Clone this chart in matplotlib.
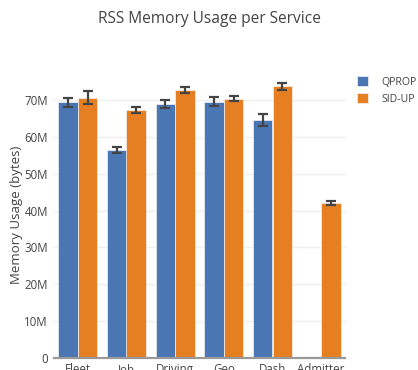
import numpy as np
import matplotlib
matplotlib.use('Agg')
import matplotlib.pyplot as plt

# data (values in bytes)
services = ['Fleet', 'Job', 'Driving', 'Geo', 'Dash', 'Admitter']
qprop = [69.5e6, 56.5e6, 69.0e6, 69.7e6, 64.6e6, np.nan]
qprop_err = [1.2e6, 0.9e6, 1.0e6, 1.1e6, 1.6e6, np.nan]
sidup = [70.7e6, 67.4e6, 72.9e6, 70.5e6, 73.8e6, 42.2e6]
sidup_err = [1.8e6, 0.7e6, 0.75e6, 0.7e6, 1.0e6, 0.55e6]
yticks = [0, 10e6, 20e6, 30e6, 40e6, 50e6, 60e6, 70e6]
ytick_labels = ['0', '10M', '20M', '30M', '40M', '50M', '60M', '70M']

plt.rcParams['font.family'] = ['Open Sans', 'DejaVu Sans']

W, H = 418, 370
fig = plt.figure(figsize=(W / 100, H / 100), dpi=100)
ax = fig.add_axes([53.5 / W, (H - 357.7) / H, (345.5 - 53.5) / W, (357.7 - 71) / H])

x = np.arange(len(services))
w = 0.4
err_kw = dict(ecolor='#444444', elinewidth=1.6, capsize=3.5, capthick=1.6)
ax.bar(x - w / 2, qprop, w, yerr=qprop_err, color='#4a77b4', edgecolor='#f3f3f3',
       linewidth=0.5, error_kw=err_kw, label='QPROP', zorder=2)
ax.bar(x + w / 2, sidup, w, yerr=sidup_err, color='#e67f22', edgecolor='#f3f3f3',
       linewidth=0.5, error_kw=err_kw, label='SID-UP', zorder=2)

ax.set_xlim(-0.5, len(services) - 0.5)
ax.set_ylim(0, 78e6)
ax.set_yticks(yticks)
ax.set_yticklabels(ytick_labels)
ax.set_xticks(x)
ax.set_xticklabels(services)
ax.tick_params(axis='both', length=0, labelsize=8.3, colors='#444444', pad=4)
ax.tick_params(axis='y', pad=4)
ax.grid(axis='y', color='#eeeeee', linewidth=1, zorder=0)
ax.set_axisbelow(True)
for s in ['top', 'right', 'left']:
    ax.spines[s].set_visible(False)
ax.spines['bottom'].set_color('#999999')
ax.spines['bottom'].set_linewidth(1.6)
ax.spines['bottom'].set_zorder(3)
ax.set_ylabel('Memory Usage (bytes)', fontsize=9.5, color='#444444', labelpad=1)

fig.suptitle('RSS Memory Usage per Service', x=209 / W, y=1 - 11 / H, va='top',
             fontsize=11.2, color='#444444')

fig.legend(loc='upper left', bbox_to_anchor=(347 / W, 1 - 67 / H), frameon=False,
           fontsize=7.6, handlelength=1.05, handleheight=1.05, labelspacing=0.5,
           handletextpad=1.3, labelcolor='#444444')

fig.savefig('out.png', dpi=100)
